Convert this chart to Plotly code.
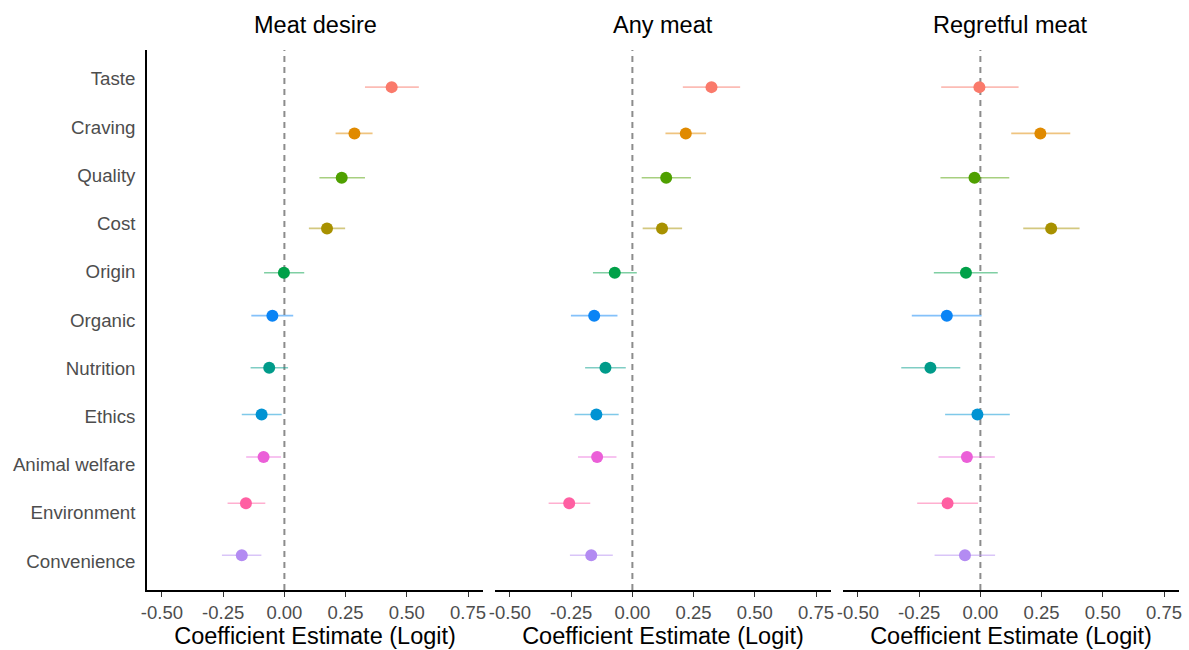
import plotly.graph_objects as go

# ---- data ----
factors = ["Taste", "Craving", "Quality", "Cost", "Origin", "Organic",
           "Nutrition", "Ethics", "Animal welfare", "Environment", "Convenience"]
# vertical placement of each estimate on the factor scale (as drawn in the source)
row_pos = [0.17, 1.13, 2.05, 3.10, 4.02, 4.91, 5.99, 6.96, 7.84, 8.80, 9.88]

panels = ["Meat desire", "Any meat", "Regretful meat"]

est_desire = [0.438, 0.286, 0.234, 0.174, -0.002, -0.049, -0.062, -0.093, -0.085, -0.157, -0.174]
lo_desire  = [0.329, 0.209, 0.143, 0.100, -0.083, -0.135, -0.138, -0.174, -0.156, -0.232, -0.255]
hi_desire  = [0.549, 0.360, 0.329, 0.248, 0.081, 0.036, 0.015, -0.011, -0.014, -0.078, -0.094]

est_any = [0.323, 0.218, 0.138, 0.121, -0.072, -0.156, -0.110, -0.147, -0.144, -0.258, -0.168]
lo_any  = [0.206, 0.135, 0.038, 0.042, -0.161, -0.251, -0.193, -0.236, -0.222, -0.342, -0.255]
hi_any  = [0.440, 0.301, 0.239, 0.203, 0.018, -0.061, -0.027, -0.056, -0.065, -0.172, -0.080]

est_regret = [-0.004, 0.245, -0.024, 0.289, -0.059, -0.137, -0.204, -0.012, -0.055, -0.134, -0.063]
lo_regret  = [-0.160, 0.126, -0.163, 0.175, -0.190, -0.280, -0.323, -0.144, -0.171, -0.258, -0.187]
hi_regret  = [0.156, 0.367, 0.118, 0.405, 0.071, 0.005, -0.082, 0.120, 0.059, -0.010, 0.060]

x_tick_vals = [-0.50, -0.25, 0.00, 0.25, 0.50, 0.75]
x_tick_text = ["-0.50", "-0.25", "0.00", "0.25", "0.50", "0.75"]
x_title = "Coefficient Estimate (Logit)"

colors = ["#FA7A6B", "#E08A00", "#4FA000", "#A89100", "#00A048", "#0A84F5",
          "#009B8A", "#0093D3", "#EB5FD8", "#FF5FA2", "#B38BF2"]


def rgba(hexc, a):
    h = hexc.lstrip("#")
    r, g, b = int(h[0:2], 16), int(h[2:4], 16), int(h[4:6], 16)
    return f"rgba({r},{g},{b},{a})"


series = [(est_desire, lo_desire, hi_desire),
          (est_any, lo_any, hi_any),
          (est_regret, lo_regret, hi_regret)]

fig = go.Figure()
xaxes = ["x", "x2", "x3"]
for p, (est, lo, hi) in enumerate(series):
    for i, f in enumerate(factors):
        fig.add_trace(go.Scatter(
            x=[est[i]], y=[row_pos[i]], mode="markers",
            xaxis=xaxes[p], yaxis="y",
            marker=dict(size=12, color=colors[i], line=dict(width=0)),
            error_x=dict(type="data", symmetric=False,
                         array=[hi[i] - est[i]], arrayminus=[est[i] - lo[i]],
                         color=rgba(colors[i], 0.5), thickness=1.6, width=0),
            showlegend=False, name=f,
        ))

domains = [[0.0, 0.3256], [0.3372, 0.6628], [0.6744, 1.0]]
font_family = "Liberation Sans, Arial, sans-serif"
axis_common = dict(
    range=[-0.561, 0.811], tickmode="array", tickvals=x_tick_vals, ticktext=x_tick_text,
    showgrid=False, zeroline=False, showline=True, linecolor="black", linewidth=1.6,
    ticks="outside", ticklen=5, tickwidth=1.4, tickcolor="#333333",
    tickfont=dict(family=font_family, size=18.5, color="#4D4D4D"),
    title=dict(text=x_title, font=dict(family=font_family, size=23.5, color="black"), standoff=1),
    anchor="y", automargin=False,
)
layout = dict(
    width=1189, height=650,
    margin=dict(l=147, r=10, t=50, b=60, autoexpand=False),
    paper_bgcolor="white", plot_bgcolor="white",
    yaxis=dict(range=[10.6, -0.6], tickmode="array", tickvals=list(range(len(factors))),
               ticktext=factors, showgrid=False, zeroline=False, showline=True,
               linecolor="black", linewidth=1.6, ticks="", anchor="x", automargin=False,
               tickfont=dict(family=font_family, size=18.7, color="#4D4D4D"),
               ticklabelstandoff=6),
)
for k, ax in enumerate(["xaxis", "xaxis2", "xaxis3"]):
    d = dict(axis_common)
    d["domain"] = domains[k]
    layout[ax] = d
fig.update_layout(**layout)

shapes = []
annotations = []
for k in range(3):
    ref = xaxes[k]
    shapes.append(dict(type="line", xref=ref, yref="y domain", x0=0, x1=0, y0=0, y1=1,
                       line=dict(color="#8C8C8C", width=2, dash="6px,5px"), layer="below"))
    annotations.append(dict(text=panels[k], xref="paper", yref="paper",
                            x=(domains[k][0] + domains[k][1]) / 2, y=1.047,
                            xanchor="center", yanchor="middle", showarrow=False,
                            font=dict(family=font_family, size=23.5, color="black")))
fig.update_layout(shapes=shapes, annotations=annotations)

fig.write_html("out.html", config={"displayModeBar": False},
               post_script="document.body.style.margin='0';document.body.style.overflow='hidden';")
